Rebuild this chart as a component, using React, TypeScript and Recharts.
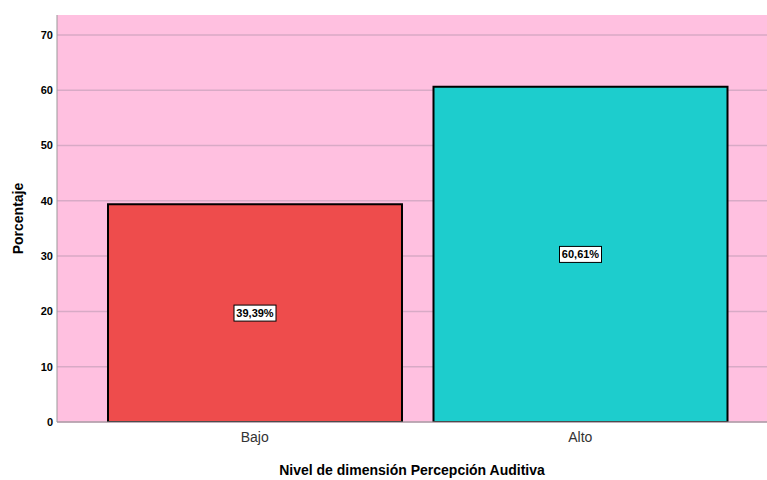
import React from 'react';
import { BarChart, Bar, XAxis, YAxis, CartesianGrid, LabelList, Cell } from 'recharts';

const categories = ['Bajo', 'Alto'];
const percentages = [39.39, 60.61];
const barColors = ['#ee4c4c', '#1dcdcd'];
const yTicks = [0, 10, 20, 30, 40, 50, 60, 70];

const data = categories.map((name, i) => ({ name, value: percentages[i] }));

const FONT = '"Liberation Sans", Arial, sans-serif';

const ValueLabel = (props: any) => {
  const { x, y, width, height, value } = props;
  const cx = x + width / 2;
  const cy = y + height / 2;
  const text = value.toFixed(2).replace('.', ',') + '%';
  const w = 42;
  const h = 16;
  return (
    <g>
      <rect x={cx - w / 2} y={cy - h / 2} width={w} height={h} fill="#ffffff" stroke="#000000" strokeWidth={1} />
      <text x={cx} y={cy + 4} textAnchor="middle" fontFamily={FONT} fontSize={11} fontWeight="bold" fill="#000">
        {text}
      </text>
    </g>
  );
};

const App: React.FC = () => {
  return (
    <div style={{ position: 'absolute', left: 0, top: 0, width: 767, height: 480, background: '#fff' }}>
      <BarChart
        width={767}
        height={480}
        data={data}
        margin={{ top: 15, right: 0, left: 0, bottom: 0 }}
        barCategoryGap={16}
      >
        <CartesianGrid
          vertical={false}
          horizontalValues={yTicks}
          fill="#ffc0e0"
          fillOpacity={1}
          stroke="#d8aac6"
          strokeWidth={1.5}
        />
        <XAxis
          dataKey="name"
          height={58}
          padding={{ left: 35, right: 24 }}
          tickLine={false}
          tickMargin={4}
          stroke="#999999"
          tick={{ fontFamily: FONT, fontSize: 14, fill: '#333333' }}
          label={{
            value: 'Nivel de dimensión Percepción Auditiva',
            position: 'insideBottom',
            offset: 5,
            style: { fontFamily: FONT, fontSize: 14, fontWeight: 'bold', fill: '#000' },
          }}
        />
        <YAxis
          width={57}
          domain={[0, 73.6]}
          ticks={yTicks}
          allowDataOverflow
          tickLine={false}
          tickSize={3}
          tickMargin={1}
          stroke="#999999"
          tick={{ fontFamily: FONT, fontSize: 11, fontWeight: 'bold', fill: '#000' }}
          label={{
            value: 'Porcentaje',
            angle: -90,
            position: 'insideLeft',
            offset: 18,
            style: { fontFamily: FONT, fontSize: 14, fontWeight: 'bold', fill: '#000', textAnchor: 'middle' },
          }}
        />
        <Bar dataKey="value" stroke="#000" strokeWidth={2} isAnimationActive={false}>
          {data.map((d, i) => (
            <Cell key={d.name} fill={barColors[i]} />
          ))}
          <LabelList dataKey="value" content={ValueLabel} />
        </Bar>
      </BarChart>
    </div>
  );
};

export default App;
